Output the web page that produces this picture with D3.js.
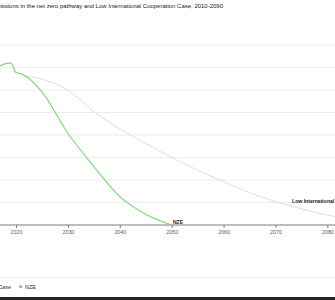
<!DOCTYPE html>
<html>
<head>
<meta charset="utf-8">
<script src="https://cdn.jsdelivr.net/npm/d3@7"></script>
<style>
  html, body { margin: 0; padding: 0; background: #fff; overflow: hidden; }
  svg { display: block; font-family: "Liberation Sans", Arial, sans-serif; }
</style>
</head>
<body>
<svg id="chart" width="335" height="300"></svg>
<script>
// ---- data (Gt CO2) ----
const titlePrefix = "CO\u2082 em";
const titleVisible = "issions in the net zero pathway and Low International Cooperation Case, 2010-2090";
const nzeYears  = [2016, 2017, 2018, 2019, 2020, 2021, 2022, 2025, 2030, 2035, 2040, 2045, 2050];
const nzeValues = [35.0, 35.4, 35.9, 36.0, 33.9, 33.6, 33.0, 29.6, 20.4, 13.0, 6.3, 2.4, 0.0];
const liccYears  = [2016, 2017, 2018, 2019, 2020, 2021, 2022, 2023, 2025, 2030, 2035, 2040, 2045, 2050, 2055, 2060, 2065, 2070, 2075, 2080, 2085, 2090];
const liccValues = [35.0, 35.4, 35.9, 36.0, 33.9, 33.6, 33.0, 32.9, 32.4, 30.0, 25.2, 21.4, 18.1, 15.0, 12.2, 9.6, 7.2, 5.2, 3.6, 2.2, 1.2, 0.6];
const xTicks = [2010, 2020, 2030, 2040, 2050, 2060, 2070, 2080, 2090];
const yTicks = [0, 5, 10, 15, 20, 25, 30, 35, 40];
const legendNames = ["Low International Cooperation Case", "NZE"];

const svg = d3.select("#chart");
const W = 335, H = 300;

const x = d3.scaleLinear().domain([2010, 2090]).range([-35.9, 379.3]);
const y = d3.scaleLinear().domain([0, 40]).range([225, 45]);

// title: size so the visible part spans the same width as the reference
const probe = svg.append("text").attr("font-size", 10).attr("font-weight", 500).text(titleVisible);
const w10 = probe.node().getComputedTextLength();
probe.remove();
const tSize = 10 * 223 / w10;
svg.append("text")
  .attr("x", 223).attr("y", 8)
  .attr("text-anchor", "end")
  .attr("font-size", tSize).attr("font-weight", 500).attr("fill", "#1a1a1a")
  .text(titlePrefix + titleVisible);

// gridlines
svg.append("g").selectAll("line")
  .data(yTicks.filter(d => d > 0)).join("line")
  .attr("x1", 0).attr("x2", W)
  .attr("y1", d => y(d)).attr("y2", d => y(d))
  .attr("stroke", "#ececec").attr("stroke-width", 1);

// x axis
const xAxis = d3.axisBottom(x).tickValues(xTicks).tickFormat(d3.format("d")).tickSize(3).tickPadding(2);
const gx = svg.append("g").attr("transform", `translate(0,${y(0)})`).call(xAxis);
gx.select(".domain").remove();
gx.append("line").attr("x1", 0).attr("x2", W).attr("stroke", "#7a7a7a").attr("stroke-width", 1);
gx.selectAll(".tick line").attr("stroke", "#7a7a7a");
gx.selectAll(".tick text").attr("font-size", 5.3).attr("fill", "#5a5a5a")
  .attr("font-family", "Liberation Sans, Arial, sans-serif");

const line = d3.line().x(d => x(d[0])).y(d => y(d[1])).curve(d3.curveMonotoneX);

// LICC line
svg.append("path")
  .datum(liccYears.map((yr, i) => [yr, liccValues[i]]))
  .attr("d", line).attr("fill", "none")
  .attr("stroke", "#dedede").attr("stroke-width", 1);

// NZE line
svg.append("path")
  .datum(nzeYears.map((yr, i) => [yr, nzeValues[i]]))
  .attr("d", line).attr("fill", "none")
  .attr("stroke", "#74dc6c").attr("stroke-width", 1.1);

// end labels
svg.append("text")
  .attr("x", x(2050) + 1.2).attr("y", y(0) - 1.5)
  .attr("font-size", 5.1).attr("font-weight", "bold").attr("fill", "#222")
  .text("NZE");
svg.append("text")
  .attr("x", x(2073.2)).attr("y", 203)
  .attr("font-size", 5.1).attr("font-weight", "bold").attr("fill", "#222")
  .text(legendNames[0]);

// legend separator
svg.append("line").attr("x1", 0).attr("x2", W).attr("y1", 277.5).attr("y2", 277.5)
  .attr("stroke", "#f0f0f0").attr("stroke-width", 1);

// legend
const lg = svg.append("g");
const t0 = lg.append("text").attr("x", 11).attr("y", 288.5).attr("text-anchor", "end")
  .attr("font-size", 5.5).attr("fill", "#333").text(legendNames[0]);
const bb = t0.node().getBBox();
lg.append("circle").attr("cx", bb.x - 5).attr("cy", 286.7).attr("r", 1.6).attr("fill", "#dcdcdc");
lg.append("circle").attr("cx", 20.7).attr("cy", 286.7).attr("r", 1.6).attr("fill", "#74dc6c");
lg.append("text").attr("x", 25).attr("y", 288.5)
  .attr("font-size", 5.5).attr("fill", "#333").text(legendNames[1]);

// bottom dark strip
svg.append("rect").attr("x", 0).attr("y", 297).attr("width", W).attr("height", 3).attr("fill", "#262626");
</script>
</body>
</html>
